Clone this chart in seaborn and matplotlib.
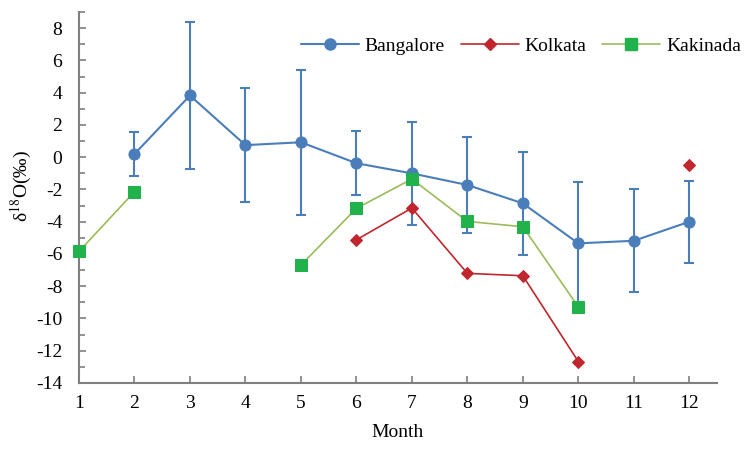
import numpy as np
import pandas as pd
import matplotlib
matplotlib.use("Agg")
import matplotlib.pyplot as plt
import seaborn as sns
from matplotlib.lines import Line2D
from matplotlib.ticker import MultipleLocator

sns.set_style("ticks")
plt.rcParams['font.family'] = ['Liberation Serif', 'DejaVu Serif']
plt.rcParams['mathtext.fontset'] = 'stix'
plt.rcParams['axes.unicode_minus'] = False
plt.rcParams['text.color'] = 'black'
plt.rcParams['axes.labelcolor'] = 'black'
plt.rcParams['xtick.labelcolor'] = 'black'
plt.rcParams['ytick.labelcolor'] = 'black'

# 数据
months = list(range(1, 13))
bangalore = [np.nan, 0.2, 3.83, 0.75, 0.93, -0.37, -1.0, -1.72, -2.86, -5.34, -5.18, -4.0]
bangalore_err = [np.nan, 1.35, 4.55, 3.55, 4.5, 2.0, 3.2, 3.0, 3.2, 3.8, 3.2, 2.55]
kolkata = [np.nan, np.nan, np.nan, np.nan, np.nan, -5.12, -3.15, -7.2, -7.35, -12.67, np.nan, -0.46]
kakinada = [-5.84, -2.14, np.nan, np.nan, -6.69, -3.17, -1.35, -3.98, -4.31, -9.28, np.nan, np.nan]

c_blu = '#4a7ebb'
c_red = '#c0262d'
c_grn_line = '#9bbb59'
c_grn_mk = '#21b24b'
fs = 14


def to_df(vals):
    # 按缺失值切分成若干段
    d = pd.DataFrame({"month": months, "val": vals})
    d["seg"] = d["val"].isna().cumsum()
    return d.dropna()


fig = plt.figure(figsize=(7.48, 4.49), dpi=100)
ax = fig.add_axes([0.1056, 0.147, 0.853, 0.826])

ax.errorbar(months, bangalore, yerr=bangalore_err, fmt='none', ecolor=c_blu,
            elinewidth=1.5, capsize=3.5, capthick=1.5, zorder=2)

sns.lineplot(data=to_df(bangalore), x="month", y="val", units="seg", estimator=None,
             color=c_blu, lw=1.5, marker='o', ms=8, markeredgecolor=c_blu, ax=ax,
             zorder=3, clip_on=False)
sns.lineplot(data=to_df(kolkata), x="month", y="val", units="seg", estimator=None,
             color=c_red, lw=1.2, marker='D', ms=6.5, markeredgecolor=c_red, ax=ax,
             zorder=3, clip_on=False)
sns.lineplot(data=to_df(kakinada), x="month", y="val", units="seg", estimator=None,
             color=c_grn_line, lw=1.2, marker='s', ms=8, markerfacecolor=c_grn_mk,
             markeredgecolor=c_grn_mk, ax=ax, zorder=3, clip_on=False)

ax.set_xlim(1, 12.5)
ax.set_ylim(-14, 9)
ax.set_xticks(months)
ax.set_yticks(range(-14, 9, 2))
ax.yaxis.set_minor_locator(MultipleLocator(1))
ax.tick_params(axis='both', which='both', direction='in', color='#7f7f7f', labelsize=fs)
ax.tick_params(axis='both', which='major', length=5, width=1.2)
ax.tick_params(axis='y', which='minor', length=4, width=1.2)
ax.tick_params(axis='y', which='major', pad=12)
ax.tick_params(axis='x', which='major', pad=9)
for s in ['left', 'bottom']:
    ax.spines[s].set_color('#7f7f7f')
    ax.spines[s].set_linewidth(1.5)
sns.despine(ax=ax)

ax.set_xlabel("Month", fontsize=fs, labelpad=8)
ax.set_ylabel(r'δ$^{18}$O(‰)', fontsize=fs)
ax.yaxis.set_label_coords(-0.07, 0.53)

handles = [
    Line2D([], [], color=c_blu, lw=1.5, marker='o', ms=8),
    Line2D([], [], color=c_red, lw=1.2, marker='D', ms=6.5),
    Line2D([], [], color=c_grn_line, lw=1.2, marker='s', ms=8,
           markerfacecolor=c_grn_mk, markeredgecolor=c_grn_mk),
]
ax.legend(handles, ["Bangalore", "Kolkata", "Kakinada"], ncol=3, frameon=False,
          loc='upper right', bbox_to_anchor=(1.05, 0.953), fontsize=fs,
          handlelength=3.0, handletextpad=0.3, columnspacing=0.8, borderaxespad=0)

plt.savefig("out.png", dpi=100)
